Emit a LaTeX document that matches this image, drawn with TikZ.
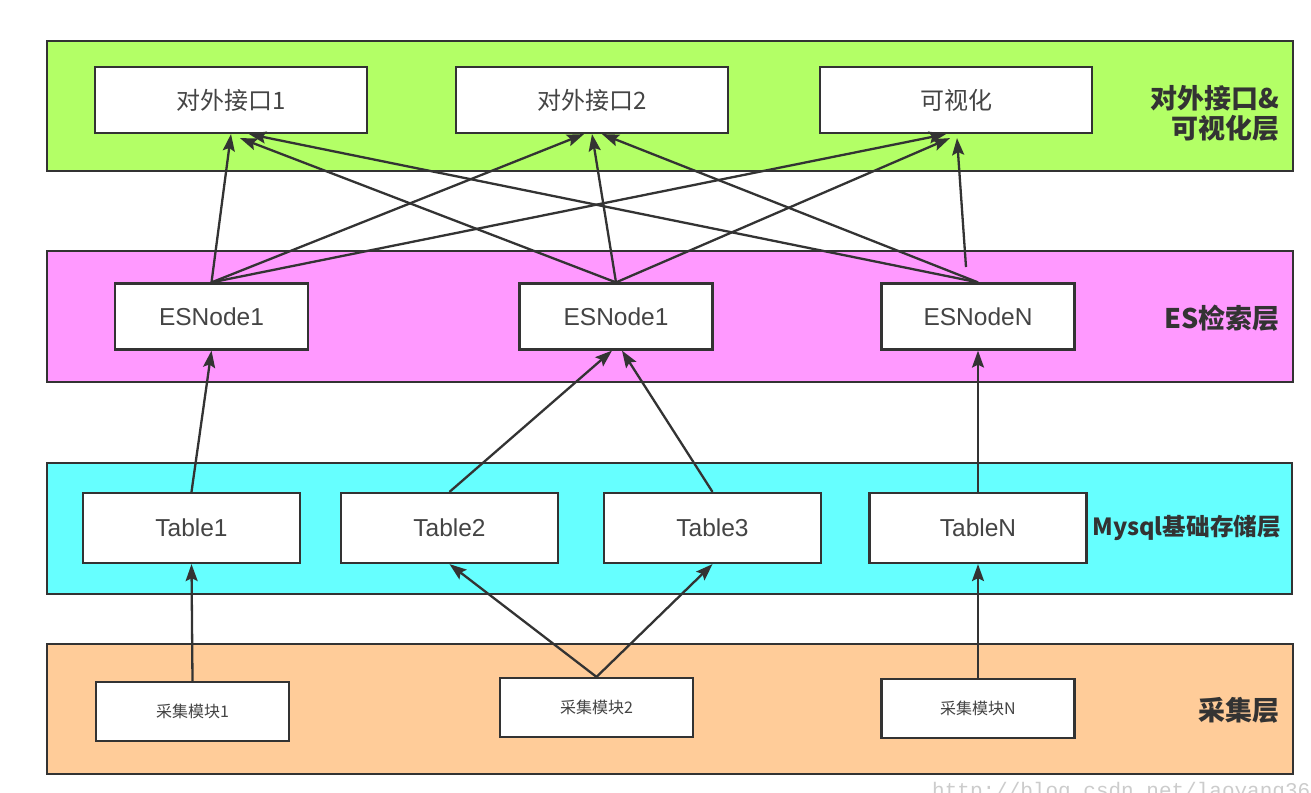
\documentclass[tikz,border=0pt]{standalone}
\usepackage{fontspec}
\setmainfont{Liberation Sans}
\newfontfamily\cjk{Noto Sans CJK SC}
\setmonofont{Liberation Mono}
\usetikzlibrary{arrows.meta}
\definecolor{lgreen}{HTML}{B3FF66}
\definecolor{lpink}{HTML}{FF99FF}
\definecolor{lcyan}{HTML}{66FFFF}
\definecolor{lorange}{HTML}{FFCC99}
\definecolor{dk}{HTML}{333333}
\definecolor{txt}{HTML}{444444}
\definecolor{wm}{HTML}{CCCCCC}
\begin{document}
\begin{tikzpicture}[x=1pt,y=-1pt,
  layerbox/.style={draw=dk, line width=2pt, inner sep=0pt, outer sep=0pt},
  box/.style={draw=dk, fill=white, line width=2.2pt, inner sep=0pt, text=txt},
  topbox/.style={box, minimum width=272pt, minimum height=66pt, font=\cjk\fontsize{24}{27}\selectfont},
  esbox/.style={box, minimum width=193pt, minimum height=66pt, font=\fontsize{24.5}{27}\selectfont},
  tabbox/.style={box, minimum width=217pt, minimum height=70pt, font=\fontsize{24.5}{27}\selectfont},
  colbox/.style={box, minimum width=193pt, minimum height=59pt, font=\cjk\fontsize{16}{19}\selectfont},
  layerlabel/.style={anchor=east, align=right, text=dk, font=\cjk\bfseries\fontsize{27}{30}\selectfont, inner sep=0pt},
  arr/.style={draw=dk, line width=2.3pt, -{Stealth[length=17pt,width=12pt,inset=3pt]}}
]
\useasboundingbox (0,0) rectangle (1311,792);
\fill[white] (0,0) rectangle (1311,792);

% layers
\node[layerbox, fill=lgreen, minimum width=1246pt, minimum height=130pt] (L1) at (670,106) {};
\node[layerbox, fill=lpink, minimum width=1246pt, minimum height=131pt] (L2) at (670,316.5) {};
\node[layerbox, fill=lcyan, minimum width=1245pt, minimum height=131pt] (L3) at (669.5,528.5) {};
\node[layerbox, fill=lorange, minimum width=1246pt, minimum height=130pt] (L4) at (670,709) {};

% layer labels
\node[layerlabel] (lab1) at (1280,113) {对外接口\&\\可视化层};
\node[layerlabel] (lab2) at (1280,318) {ES检索层};
\node[layerlabel, font=\cjk\bfseries\fontsize{23.6}{28}\selectfont] (lab3) at (1281,528) {Mysql基础存储层};
\node[layerlabel] (lab4) at (1280,710) {采集层};

% top boxes
\node[topbox] (j1) at (231,100) {对外接口1};
\node[topbox] (j2) at (592,100) {对外接口2};
\node[topbox] (j3) at (956,100) {可视化};

% ES nodes
\node[esbox] (e1) at (211.5,316.5) {ESNode1};
\node[esbox] (e2) at (616,316.5) {ESNode1};
\node[esbox] (e3) at (978,316.5) {ESNodeN};

% tables
\node[tabbox] (t1) at (191.5,528) {Table1};
\node[tabbox] (t2) at (449.5,528) {Table2};
\node[tabbox] (t3) at (712.5,528) {Table3};
\node[tabbox] (t4) at (978,528) {TableN};

% collectors
\node[colbox] (c1) at (192.5,711.5) {采集模块1};
\node[colbox] (c2) at (596.5,707.5) {采集模块2};
\node[colbox] (c3) at (978,708.5) {采集模块N};

% collector -> tables
\draw[arr] (c1.north) -- (t1.south);
\draw[arr] (c2.north) -- (t2.south);
\draw[arr] (c2.north) -- (t3.south);
\draw[arr] (c3.north) -- (t4.south);

% tables -> ES
\draw[arr] (t1.north) -- (e1.south);
\draw[arr] (t2.north) -- ([xshift=-4pt]e2.south);
\draw[arr] (t3.north) -- ([xshift=6pt]e2.south);
\draw[arr] (t4.north) -- (e3.south);

% ES -> top
\draw[arr] (e1.north) -- (j1.south);
\draw[arr] (e1.north) -- ([xshift=-8pt]j2.south);
\draw[arr] (e1.north) -- ([xshift=-10pt]j3.south);
\draw[arr] (e2.north) -- ([xshift=9pt,yshift=-4pt]j1.south);
\draw[arr] (e2.north) -- (j2.south);
\draw[arr] (e2.north) -- ([xshift=-6pt,yshift=-4pt]j3.south);
\draw[arr] (e3.north) -- ([xshift=18pt]j1.south);
\draw[arr] (e3.north) -- ([xshift=10pt]j2.south);
\coordinate (e3up) at (966,267);
\draw[arr] (e3up) -- ([xshift=1pt,yshift=-4pt]j3.south);

% watermark
\node[anchor=base west, inner sep=0pt, text=wm, font=\ttfamily\fontsize{21}{24}\selectfont] (wmk) at (932,797) {http://blog.csdn.net/laoyang360};
\end{tikzpicture}
\end{document}
